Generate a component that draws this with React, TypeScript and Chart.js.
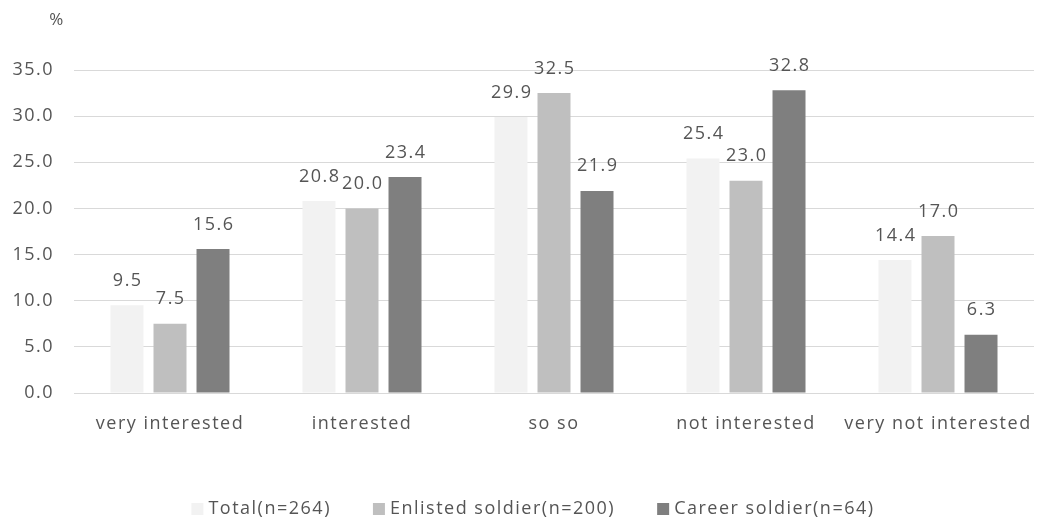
import React, { useEffect, useRef } from "react";
import { Chart, registerables } from "chart.js";

Chart.register(...registerables);

// Survey answers by group (percent)
const categories = ["very interested", "interested", "so so", "not interested", "very not interested"];
const seriesLabels = ["Total(n=264)", "Enlisted soldier(n=200)", "Career soldier(n=64)"];
const totalValues = [9.5, 20.8, 29.9, 25.4, 14.4];
const enlistedValues = [7.5, 20.0, 32.5, 23.0, 17.0];
const careerValues = [15.6, 23.4, 21.9, 32.8, 6.3];
const seriesColors = ["#f2f2f2", "#bfbfbf", "#7f7f7f"];
const yMin = 0;
const yMax = 35;
const yStep = 5;
const unitLabel = "%";

const FONT = "'Open Sans', 'Noto Sans', sans-serif";
const TEXT_COLOR = "#555555";
const SPACING = "1.5px";

// Wider tracking for axis text and value labels
const spacingPlugin = {
  id: "spacing",
  beforeLayout(chart: any) {
    chart.ctx.letterSpacing = SPACING;
  },
  beforeDraw(chart: any) {
    chart.ctx.letterSpacing = SPACING;
  },
};

// Value printed above every bar, plus the unit label over the y axis
const valueLabelPlugin = {
  id: "valueLabels",
  afterDatasetsDraw(chart: any) {
    const ctx = chart.ctx;
    ctx.save();
    ctx.letterSpacing = SPACING;
    ctx.font = `18px ${FONT}`;
    ctx.fillStyle = TEXT_COLOR;
    ctx.textAlign = "center";
    ctx.textBaseline = "alphabetic";
    chart.data.datasets.forEach((ds: any, di: number) => {
      const meta = chart.getDatasetMeta(di);
      meta.data.forEach((bar: any, i: number) => {
        const v = ds.data[i] as number;
        ctx.fillText(v.toFixed(1), bar.x + 0.75, bar.y - 19.5);
      });
    });
    ctx.font = `17px ${FONT}`;
    ctx.textBaseline = "middle";
    ctx.fillText(unitLabel, chart.chartArea.left - 17, 20);
    ctx.restore();
  },
};

// Legend row along the bottom
const legendPlugin = {
  id: "bottomLegend",
  afterDraw(chart: any) {
    const ctx = chart.ctx;
    ctx.save();
    ctx.letterSpacing = SPACING;
    ctx.font = `18px ${FONT}`;
    ctx.textBaseline = "middle";
    ctx.textAlign = "left";
    const box = 12;
    const boxGap = 5;
    const itemGap = 42;
    const items = chart.data.datasets.map((ds: any) => ({
      label: ds.label as string,
      color: ds.backgroundColor as string,
      w: ctx.measureText(ds.label).width,
    }));
    const total =
      items.reduce((s: number, it: any) => s + box + boxGap + it.w, 0) + itemGap * (items.length - 1);
    let x = 533 - total / 2;
    const y = 509;
    items.forEach((it: any) => {
      ctx.fillStyle = it.color;
      ctx.fillRect(x, y - box / 2, box, box);
      ctx.fillStyle = TEXT_COLOR;
      ctx.fillText(it.label, x + box + boxGap, y);
      x += box + boxGap + it.w + itemGap;
    });
    ctx.restore();
  },
};

export default function App() {
  const canvasRef = useRef<HTMLCanvasElement | null>(null);

  useEffect(() => {
    if (!canvasRef.current) return;
    const values = [totalValues, enlistedValues, careerValues];
    const chart = new Chart(canvasRef.current, {
      type: "bar",
      data: {
        labels: categories,
        datasets: seriesLabels.map((label, i) => ({
          label,
          data: values[i],
          backgroundColor: seriesColors[i],
          borderWidth: 0,
          categoryPercentage: 0.672,
          barPercentage: 0.767,
        })),
      },
      options: {
        responsive: false,
        animation: false,
        layout: { padding: { top: 70, right: 7, bottom: 0, left: 0 } },
        plugins: {
          legend: { display: false },
          tooltip: { enabled: false },
        },
        scales: {
          x: {
            grid: { display: false, drawTicks: false },
            border: { display: false },
            ticks: {
              color: TEXT_COLOR,
              font: { family: FONT, size: 18 },
              padding: 20,
              maxRotation: 0,
              autoSkip: false,
            },
            afterFit(scale: any) {
              scale.height = 128;
              scale.paddingLeft = 0;
              scale.paddingRight = 0;
            },
          },
          y: {
            min: yMin,
            max: yMax,
            grid: { color: "#d9d9d9", lineWidth: 1, drawTicks: false },
            border: { display: false },
            ticks: {
              stepSize: yStep,
              color: TEXT_COLOR,
              font: { family: FONT, size: 18 },
              padding: 20,
              callback: (v: any) => Number(v).toFixed(1),
            },
            afterFit(scale: any) {
              scale.width = 74;
            },
          },
        },
      },
      plugins: [spacingPlugin, valueLabelPlugin, legendPlugin],
    });
    return () => chart.destroy();
  }, []);

  return (
    <div style={{ position: "absolute", left: 0, top: 0, width: 1041, height: 521, background: "#fff" }}>
      <canvas ref={canvasRef} width={1041} height={521} style={{ display: "block" }} />
    </div>
  );
}
